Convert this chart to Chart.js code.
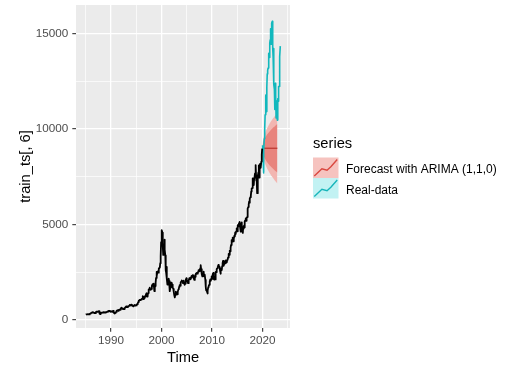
<!DOCTYPE html>
<html>
<head>
<meta charset="utf-8">
<script src="https://cdn.jsdelivr.net/npm/chart.js@4.4.1/dist/chart.umd.min.js"></script>
<style>
  html, body { margin: 0; padding: 0; background: #fff; }
  #wrap { width: 505px; height: 367px; }
</style>
</head>
<body>
<div id="wrap"><canvas id="chart" width="505" height="367"></canvas></div>
<script>
// training series, monthly, Jan 1985 .. Dec 2019
const trainStart = 1985;
const trainValues = [
  278, 284, 279, 280, 290, 296, 301, 298, 280, 292, 313, 325,
  335, 359, 375, 383, 400, 405, 371, 383, 350, 360, 359, 349,
  392, 424, 430, 417, 416, 424, 434, 454, 444, 323, 305, 331,
  344, 367, 374, 379, 371, 394, 387, 377, 387, 382, 372, 381,
  401, 399, 406, 428, 446, 435, 453, 469, 472, 456, 454, 455,
  416, 425, 435, 420, 458, 462, 438, 381, 344, 329, 359, 374,
  414, 453, 482, 484, 506, 475, 502, 525, 527, 542, 523, 586,
  620, 633, 603, 578, 585, 563, 580, 563, 583, 605, 652, 677,
  696, 670, 690, 661, 700, 704, 705, 742, 763, 779, 754, 777,
  800, 793, 743, 733, 735, 706, 722, 765, 764, 777, 750, 752,
  755, 793, 817, 843, 864, 933, 1001, 1020, 1044, 1036, 1059, 1052,
  1060, 1100, 1101, 1191, 1243, 1185, 1081, 1142, 1227, 1221, 1293, 1291,
  1380, 1309, 1222, 1261, 1400, 1442, 1594, 1587, 1686, 1594, 1601, 1570,
  1619, 1771, 1835, 1869, 1779, 1895, 1872, 1499, 1694, 1771, 1950, 2193,
  2506, 2288, 2461, 2543, 2471, 2686, 2638, 2739, 2746, 2966, 3336, 4069,
  3940, 4697, 4573, 3861, 3401, 3966, 3767, 4206, 3673, 3370, 2598, 2471,
  2773, 2152, 1840, 2116, 2110, 2161, 2027, 1805, 1499, 1690, 1931, 1950,
  1934, 1731, 1845, 1688, 1616, 1463, 1328, 1315, 1172, 1330, 1479, 1336,
  1321, 1338, 1341, 1464, 1596, 1623, 1735, 1810, 1787, 1932, 1960, 2003,
  2066, 2030, 1994, 1920, 1987, 2048, 1887, 1838, 1897, 1975, 2097, 2175,
  2062, 2052, 1999, 1922, 2068, 2057, 2185, 2152, 2152, 2120, 2233, 2205,
  2306, 2281, 2340, 2323, 2179, 2172, 2091, 2184, 2258, 2367, 2432, 2415,
  2464, 2416, 2422, 2525, 2605, 2603, 2546, 2596, 2702, 2859, 2661, 2652,
  2389, 2271, 2279, 2413, 2523, 2293, 2326, 2368, 2092, 1721, 1536, 1577,
  1476, 1378, 1529, 1717, 1774, 1835, 1979, 2009, 2122, 2045, 2145, 2269,
  2147, 2238, 2398, 2461, 2257, 2109, 2255, 2114, 2369, 2507, 2498, 2653,
  2700, 2782, 2781, 2874, 2835, 2774, 2756, 2579, 2415, 2684, 2620, 2605,
  2814, 2967, 3091, 3046, 2827, 2935, 2940, 3067, 3116, 2977, 3010, 3020,
  3142, 3160, 3268, 3329, 3456, 3403, 3626, 3590, 3771, 3920, 4060, 4177,
  4104, 4308, 4199, 4115, 4243, 4408, 4370, 4580, 4493, 4631, 4792, 4736,
  4635, 4964, 4901, 4941, 5070, 4987, 5128, 4777, 4620, 5054, 5109, 5007,
  4614, 4558, 4870, 4775, 4948, 4843, 5162, 5213, 5312, 5189, 5324, 5383,
  5615, 5825, 5912, 6048, 6199, 6140, 6348, 6429, 6496, 6728, 6874, 6903,
  7411, 7273, 7063, 7066, 7442, 7510, 7672, 8110, 8046, 7306, 7331, 6635,
  7282, 7533, 7729, 8095, 7453, 8006, 8175, 7963, 7999, 8292, 8665, 8973
];

// real data, monthly, Jan 2020 .. Jul 2023
const realStart = 2020;
const realValues = [
  9151, 8567, 7700, 8890, 9490, 10058, 10745, 11775, 11168, 10912, 12199, 12888,
  13070, 13192, 13247, 13962, 13749, 14504, 14673, 15259, 14449, 15498, 15538, 15645,
  14240, 13751, 14221, 12335, 12081, 11029, 12391, 11816, 10576, 10988, 11468, 10466,
  11585, 11456, 12222, 12227, 12935, 13788, 14346
];

// ARIMA(1,1,0) forecast and intervals
const fcTime = [2020.0, 2020.167, 2020.417, 2020.667, 2020.917, 2021.167, 2021.417,
                2021.667, 2021.917, 2022.167, 2022.417, 2022.667, 2022.917];
const fcMean = [8990, 8990, 8990, 8990, 8990, 8990, 8990, 8990, 8990, 8990, 8990, 8990, 8990];
const fcHi80 = [9202, 9357, 9508, 9625, 9723, 9809, 9888, 9960, 10026, 10090, 10149, 10205, 10260];
const fcLo80 = [8778, 8623, 8472, 8355, 8257, 8171, 8092, 8020, 7954, 7890, 7831, 7775, 7720];
const fcHi95 = [9298, 9525, 9745, 9915, 10058, 10183, 10298, 10403, 10500, 10592, 10679, 10760, 10840];
const fcLo95 = [8682, 8455, 8235, 8065, 7922, 7797, 7682, 7577, 7480, 7388, 7301, 7220, 7140];

const xTicks = [1985, 1990, 1995, 2000, 2005, 2010, 2015, 2020, 2025];
const xLabels = [1990, 2000, 2010, 2020];
const yTicks = [0, 2500, 5000, 7500, 10000, 12500, 15000];
const yLabels = [0, 5000, 10000, 15000];

const seriesNames = ['Forecast with ARIMA (1,1,0)', 'Real-data'];

const FONT = '"Liberation Sans", Arial, Helvetica, sans-serif';

const monthly = (start, vals) => vals.map((v, i) => ({ x: start + i / 12, y: v }));
const paired = (xs, ys) => xs.map((x, i) => ({ x: x, y: ys[i] }));

const panelBg = {
    id: 'panelBg',
    beforeDraw(chart) {
        const { ctx, chartArea: a } = chart;
        ctx.save();
        ctx.fillStyle = '#EBEBEB';
        ctx.fillRect(a.left, a.top, a.right - a.left, a.bottom - a.top);
        ctx.restore();
    }
};

// ggplot-like legend drawn in the right margin
const sideLegend = {
    id: 'sideLegend',
    afterDraw(chart) {
        const ctx = chart.ctx;
        ctx.save();
        ctx.fillStyle = '#000';
        ctx.textBaseline = 'alphabetic';
        ctx.font = '14.7px ' + FONT;
        ctx.fillText('series', 313, 147.5);

        const keys = [
            { top: 157.5, fill: '#F6C3BF', line: '#D9473F', label: seriesNames[0], base: 172.5 },
            { top: 178, fill: '#C2F2F3', line: '#17B5BA', label: seriesNames[1], base: 193.5 }
        ];
        const kx = 313, kw = 25.5, kh = 20.5;
        keys.forEach(k => {
            ctx.fillStyle = k.fill;
            ctx.fillRect(kx, k.top, kw, kh);
            ctx.strokeStyle = k.line;
            ctx.lineWidth = 1.4;
            ctx.beginPath();
            const pts = [[0.05, 0.9], [0.35, 0.55], [0.55, 0.62], [0.7, 0.45], [0.95, 0.1]];
            pts.forEach((p, i) => {
                const px = kx + p[0] * kw, py = k.top + p[1] * kh;
                if (i === 0) ctx.moveTo(px, py); else ctx.lineTo(px, py);
            });
            ctx.stroke();
            ctx.fillStyle = '#000';
            ctx.font = '12px ' + FONT;
            ctx.fillText(k.label, 346, k.base);
        });
        ctx.restore();
    }
};

const line = (data, color, width) => ({
    data: data, borderColor: color, borderWidth: width,
    pointRadius: 0, tension: 0, fill: false, borderJoinStyle: 'round'
});

new Chart(document.getElementById('chart'), {
    type: 'line',
    data: {
        datasets: [
            line(monthly(trainStart, trainValues), '#000000', 1.8),
            line(monthly(realStart, realValues), '#12B8BD', 1.6),
            line(paired(fcTime, fcMean), '#C2413A', 1.4),
            { data: paired(fcTime, fcHi80), borderWidth: 0, pointRadius: 0, fill: '+1', backgroundColor: '#E8847D' },
            { data: paired(fcTime, fcLo80), borderWidth: 0, pointRadius: 0, fill: false },
            { data: paired(fcTime, fcHi95), borderWidth: 0, pointRadius: 0, fill: '+1', backgroundColor: '#F2B6B1' },
            { data: paired(fcTime, fcLo95), borderWidth: 0, pointRadius: 0, fill: false }
        ]
    },
    options: {
        responsive: false,
        animation: false,
        layout: { padding: { top: 5, right: 215, left: 0, bottom: 0 } },
        plugins: { legend: { display: false }, tooltip: { enabled: false } },
        scales: {
            x: {
                type: 'linear',
                min: 1983.08,
                max: 2025.42,
                afterBuildTicks: s => { s.ticks = xTicks.map(v => ({ value: v })); },
                afterFit: s => { s.height = 39; s.paddingLeft = 0; s.paddingRight = 0; },
                border: { display: false },
                grid: {
                    color: '#FFFFFF',
                    lineWidth: c => (xLabels.includes(c.tick.value) ? 1.3 : 0.7),
                    tickColor: c => (xLabels.includes(c.tick.value) ? '#333333' : 'rgba(0,0,0,0)'),
                    tickLength: 3.7,
                    tickWidth: 1.1
                },
                ticks: {
                    autoSkip: false, maxRotation: 0, padding: 2,
                    color: '#4D4D4D', font: { family: FONT, size: 11.7 },
                    callback: v => (xLabels.includes(v) ? String(v) : '')
                },
                title: {
                    display: true, text: 'Time', color: '#000',
                    font: { family: FONT, size: 14.7 }, padding: { top: 0, bottom: 0 }
                }
            },
            y: {
                type: 'linear',
                min: -430,
                max: 16500,
                afterBuildTicks: s => { s.ticks = yTicks.map(v => ({ value: v })); },
                afterFit: s => { s.width = 76; s.paddingTop = 0; s.paddingBottom = 0; },
                border: { display: false },
                grid: {
                    color: '#FFFFFF',
                    lineWidth: c => (yLabels.includes(c.tick.value) ? 1.3 : 0.7),
                    tickColor: c => (yLabels.includes(c.tick.value) ? '#333333' : 'rgba(0,0,0,0)'),
                    tickLength: 3.7,
                    tickWidth: 1.1
                },
                ticks: {
                    autoSkip: false, padding: 4,
                    color: '#4D4D4D', font: { family: FONT, size: 11.7 },
                    callback: v => (yLabels.includes(v) ? String(v) : '')
                },
                title: {
                    display: true, text: 'train_ts[, 6]', color: '#000',
                    font: { family: FONT, size: 14.7 }, padding: { top: 17, bottom: 0 }
                }
            }
        }
    },
    plugins: [panelBg, sideLegend]
});
</script>
</body>
</html>
